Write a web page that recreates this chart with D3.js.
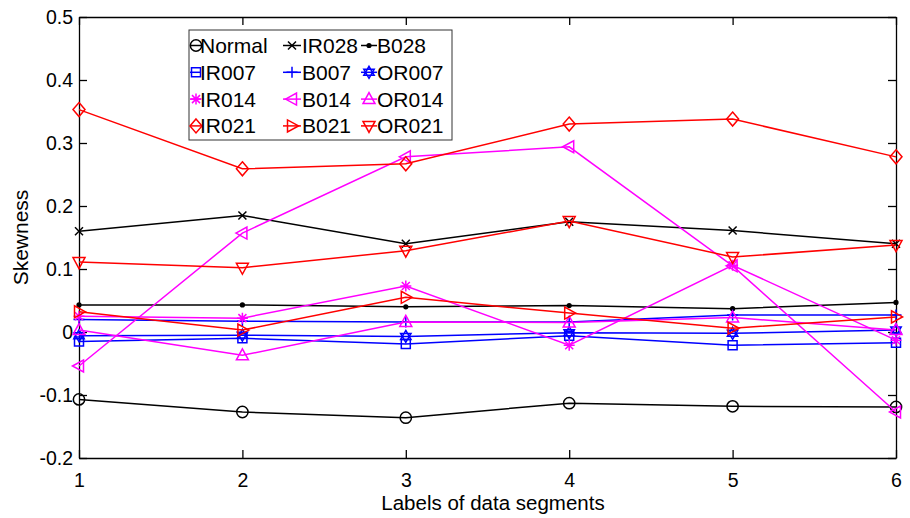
<!DOCTYPE html>
<html>
<head>
<meta charset="utf-8">
<script src="https://cdn.jsdelivr.net/npm/d3@7"></script>
<style>
  body { margin: 0; background: #fff; }
  svg text { font-family: "Liberation Sans", Arial, sans-serif; fill: #000; }
</style>
</head>
<body>
<svg id="chart" width="910" height="518"></svg>
<script>
// data
const segments = [1, 2, 3, 4, 5, 6];
const yTicks = [-0.2, -0.1, 0, 0.1, 0.2, 0.3, 0.4, 0.5];

const normal = [-0.107, -0.127, -0.136, -0.113, -0.118, -0.119];
const ir028  = [0.160, 0.185, 0.140, 0.175, 0.161, 0.140];
const b028   = [0.043, 0.043, 0.040, 0.042, 0.037, 0.047];
const ir007  = [-0.015, -0.010, -0.019, -0.006, -0.021, -0.017];
const b007   = [0.020, 0.017, 0.016, 0.016, 0.027, 0.027];
const or007  = [-0.006, -0.005, -0.007, -0.001, -0.002, 0.003];
const ir014  = [0.025, 0.022, 0.073, -0.021, 0.106, -0.013];
const b014   = [-0.054, 0.157, 0.278, 0.294, 0.105, -0.127];
const or014  = [0.003, -0.037, 0.016, 0.015, 0.023, 0.003];
const ir021  = [0.353, 0.259, 0.267, 0.330, 0.338, 0.278];
const b021   = [0.032, 0.003, 0.055, 0.030, 0.006, 0.024];
const or021  = [0.111, 0.102, 0.129, 0.176, 0.119, 0.138];

// legend order is row by row
const series = [
  {name: "Normal", values: normal, color: "#000000", marker: "circle"},
  {name: "IR028",  values: ir028,  color: "#000000", marker: "x"},
  {name: "B028",   values: b028,   color: "#000000", marker: "dot"},
  {name: "IR007",  values: ir007,  color: "#0000ff", marker: "square"},
  {name: "B007",   values: b007,   color: "#0000ff", marker: "plus"},
  {name: "OR007",  values: or007,  color: "#0000ff", marker: "hexagram"},
  {name: "IR014",  values: ir014,  color: "#ff00ff", marker: "asterisk"},
  {name: "B014",   values: b014,   color: "#ff00ff", marker: "left"},
  {name: "OR014",  values: or014,  color: "#ff00ff", marker: "up"},
  {name: "IR021",  values: ir021,  color: "#ff0000", marker: "diamond"},
  {name: "B021",   values: b021,   color: "#ff0000", marker: "right"},
  {name: "OR021",  values: or021,  color: "#ff0000", marker: "down"}
];

const margin = {left: 79, right: 14, top: 17, bottom: 60};
const width = 910, height = 518;

let svg = d3.select("#chart");

let x = d3.scaleLinear().domain([1, 6]).range([margin.left, width - margin.right]);
let y = d3.scaleLinear().domain([-0.2, 0.5]).range([height - margin.bottom, margin.top]);

/// marker shapes /////

function markerPath(type) {
  switch (type) {
    case "circle":   return d3.symbol(d3.symbolCircle, 100)();
    case "square":   return "M-4.5,-4.5H4.5V4.5H-4.5Z";
    case "diamond":  return "M0,-7L6,0L0,7L-6,0Z";
    case "up":       return "M0,-6.5L6,4.5H-6Z";
    case "down":     return "M0,6.5L6,-4.5H-6Z";
    case "left":     return "M-6.5,0L4.5,-6V6Z";
    case "right":    return "M6.5,0L-4.5,-6V6Z";
    case "x":        return "M-4,-4L4,4M-4,4L4,-4";
    case "plus":     return "M-5.5,0H5.5M0,-5.5V5.5";
    case "asterisk": return "M-5.5,0H5.5M0,-5.5V5.5M-4,-4L4,4M-4,4L4,-4";
    case "hexagram": return "M0,-6L5.2,3L-5.2,3ZM0,6L5.2,-3L-5.2,-3Z";
    default:         return "";
  }
}

function drawMarker(selection, s) {
  if (s.marker === "dot") {
    selection.append("circle")
      .attr("r", 2.6)
      .attr("fill", s.color);
  } else {
    selection.append("path")
      .attr("d", markerPath(s.marker))
      .attr("fill", "none")
      .attr("stroke", s.color)
      .attr("stroke-width", 1.5);
  }
}

/// axes /////

let xAxis = d3.axisBottom(x).tickValues(segments)
  .tickSizeInner(-8).tickSizeOuter(0).tickPadding(15)
  .tickFormat(d3.format("d"));

let yAxis = d3.axisLeft(y).tickValues(yTicks)
  .tickSizeInner(-8).tickSizeOuter(0).tickPadding(6)
  .tickFormat(function(d) { return String(+d.toFixed(1)); });

svg.append("g")
    .attr("transform", "translate(0," + y(-0.2) + ")")
    .call(xAxis);

svg.append("g")
    .attr("transform", "translate(" + x(1) + ",0)")
    .call(yAxis);

// top and right ticks, no labels
svg.append("g")
    .attr("transform", "translate(0," + y(0.5) + ")")
    .call(d3.axisTop(x).tickValues(segments).tickSizeInner(-8).tickSizeOuter(0).tickFormat(""));

svg.append("g")
    .attr("transform", "translate(" + x(6) + ",0)")
    .call(d3.axisRight(y).tickValues(yTicks).tickSizeInner(-8).tickSizeOuter(0).tickFormat(""));

svg.selectAll(".tick text").attr("font-size", 19.5).attr("font-family", null);
svg.selectAll(".domain, .tick line").attr("stroke", "#000").attr("stroke-width", 1.3);

/// series /////

let line = d3.line()
  .x(function(d, i) { return x(segments[i]); })
  .y(function(d) { return y(d); });

series.forEach(function(s) {
  let g = svg.append("g").attr("class", "series");

  g.append("path")
    .attr("d", line(s.values))
    .attr("fill", "none")
    .attr("stroke", s.color)
    .attr("stroke-width", 1.5);

  g.selectAll("g.mark")
    .data(s.values)
    .enter().append("g")
      .attr("class", "mark")
      .attr("transform", function(d, i) { return "translate(" + x(segments[i]) + "," + y(d) + ")"; })
      .each(function() { d3.select(this).call(drawMarker, s); });
});

/// axis titles /////

svg.append("text")
  .attr("x", 493)
  .attr("y", 510)
  .attr("text-anchor", "middle")
  .attr("font-size", 20.5)
  .text("Labels of data segments");

svg.append("text")
  .attr("transform", "translate(28," + y(0.15) + ") rotate(-90)")
  .attr("text-anchor", "middle")
  .attr("font-size", 21)
  .text("Skewness");

/// legend /////

let legend = svg.append("g").attr("class", "legend");

legend.append("rect")
  .attr("x", 189).attr("y", 30)
  .attr("width", 263).attr("height", 110)
  .attr("fill", "#fff")
  .attr("stroke", "#333")
  .attr("stroke-width", 1);

const legendCols = [{x0: 190, x1: 201, m: 196, t: 200},
                    {x0: 283, x1: 301, m: 292, t: 302},
                    {x0: 361, x1: 377, m: 369, t: 377}];

series.forEach(function(s, i) {
  let col = legendCols[i % 3];
  let cy = 45.5 + Math.floor(i / 3) * 26.8;
  let item = legend.append("g");

  item.append("line")
    .attr("x1", col.x0).attr("x2", col.x1)
    .attr("y1", cy).attr("y2", cy)
    .attr("stroke", s.color)
    .attr("stroke-width", 1.5);

  item.append("g")
    .attr("transform", "translate(" + col.m + "," + cy + ")")
    .call(drawMarker, s);

  item.append("text")
    .attr("x", col.t)
    .attr("y", cy)
    .attr("dy", "0.36em")
    .attr("font-size", 21)
    .text(s.name);
});
</script>
</body>
</html>
